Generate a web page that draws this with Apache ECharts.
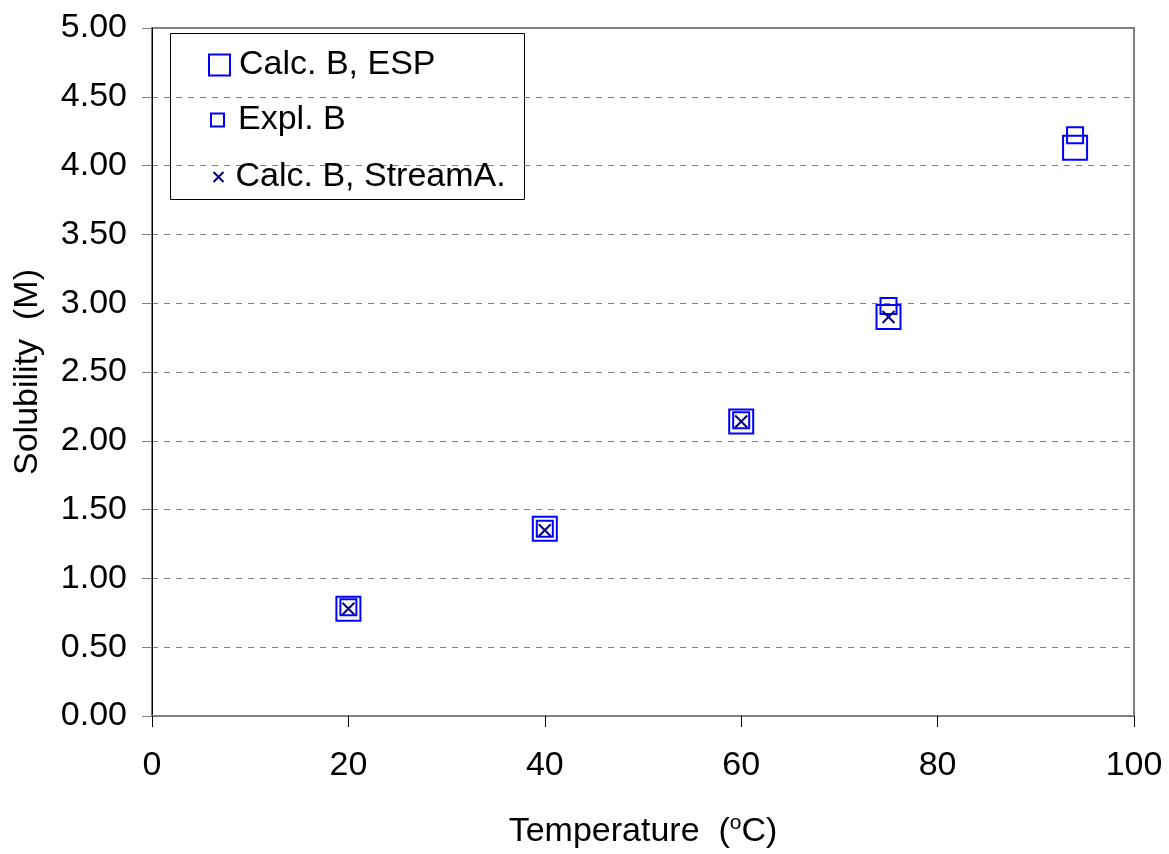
<!DOCTYPE html>
<html>
<head>
    <meta charset="UTF-8">
    <title>Solubility</title>
    <script type="text/javascript" src="https://cdn.jsdelivr.net/npm/echarts@6/dist/echarts.min.js"></script>
</head>
<body style="margin: 0;background: #ffffff;">
<div id="chart" style="width:1169px;height:854px;"></div>
<script>
    // temperatures (oC) and solubility (M)
    var temps = [20, 40, 60, 75, 94];
    var calcEsp = [0.78, 1.36, 2.14, 2.90, 4.13];
    var explB = [0.79, 1.36, 2.15, 2.98, 4.22];
    var calcStream = [0.78, 1.35, 2.14, 2.90];
    var xTicks = [0, 20, 40, 60, 80, 100];
    var yTicks = [0, 0.5, 1, 1.5, 2, 2.5, 3, 3.5, 4, 4.5, 5];

    function pairs(xs, ys) {
        var out = [];
        for (var i = 0; i < ys.length; i++) {
            out.push([xs[i], ys[i]]);
        }
        return out;
    }

    var crossPath = 'path://M0,0L10,10M10,0L0,10';
    var font = 'Liberation Sans, Arial, sans-serif';

    var chart = echarts.init(document.getElementById('chart'));
    var option = {
        animation: false,
        textStyle: {fontFamily: font},
        grid: {
            left: 152, right: 35, top: 28, bottom: 136,
            show: true, borderColor: '#808080', borderWidth: 2
        },
        xAxis: {
            type: 'value',
            min: xTicks[0], max: xTicks[xTicks.length - 1], interval: 20,
            name: 'Temperature  ({sup|o}C)',
            nameLocation: 'middle',
            nameGap: 97,
            nameTextStyle: {
                fontSize: 34, color: '#000', fontFamily: font,
                rich: {sup: {fontSize: 21, fontFamily: font, color: '#000', padding: [0, 0, 17, 0]}}
            },
            axisLine: {lineStyle: {color: '#808080', width: 2}},
            axisTick: {show: true, inside: false, length: 11, lineStyle: {color: '#000', width: 1}},
            axisLabel: {fontSize: 34, color: '#000', margin: 33},
            splitLine: {show: false}
        },
        yAxis: {
            type: 'value',
            min: yTicks[0], max: yTicks[yTicks.length - 1], interval: 0.5,
            name: 'Solubility  (M)',
            nameLocation: 'middle',
            nameGap: 107,
            nameTextStyle: {fontSize: 34, color: '#000'},
            axisLine: {show: true, lineStyle: {color: '#000', width: 1}},
            axisTick: {show: true, inside: false, length: 10, lineStyle: {color: '#808080', width: 1}},
            axisLabel: {
                fontSize: 34, color: '#000', margin: 25,
                formatter: function (v) { return v.toFixed(2); }
            },
            splitLine: {show: true, lineStyle: {color: '#808080', width: 1, type: [6, 6]}}
        },
        legend: [
            {
                left: 208, top: 48, itemWidth: 21, itemHeight: 21, padding: 0,
                textStyle: {fontSize: 34, color: '#000', padding: [0, 0, 0, 4]},
                data: [{name: 'Calc. B, ESP', icon: 'rect',
                    itemStyle: {color: 'transparent', borderColor: '#0000ff', borderWidth: 2}}]
            },
            {
                left: 210, top: 103, itemWidth: 13, itemHeight: 13, padding: 0,
                textStyle: {fontSize: 34, color: '#000', padding: [0, 0, 0, 9]},
                data: [{name: 'Expl. B', icon: 'rect',
                    itemStyle: {color: 'transparent', borderColor: '#0000ff', borderWidth: 2}}]
            },
            {
                left: 211, top: 160, itemWidth: 10, itemHeight: 10, padding: 0,
                textStyle: {fontSize: 34, color: '#000', padding: [0, 0, 0, 7]},
                data: [{name: 'Calc. B, StreamA.', icon: crossPath,
                    itemStyle: {color: 'none', borderColor: '#000080', borderWidth: 2}}]
            }
        ],
        graphic: [{
            type: 'rect', left: 170, top: 33, z: 0,
            shape: {width: 354, height: 166},
            style: {fill: '#fff', stroke: '#000', lineWidth: 1}
        }],
        series: [
            {
                name: 'Calc. B, ESP',
                type: 'scatter',
                symbol: 'rect',
                symbolSize: 24,
                itemStyle: {color: 'transparent', borderColor: '#0000ff', borderWidth: 2, opacity: 1},
                data: pairs(temps, calcEsp)
            },
            {
                name: 'Expl. B',
                type: 'scatter',
                symbol: 'rect',
                symbolSize: 16,
                itemStyle: {color: 'transparent', borderColor: '#0000ff', borderWidth: 2, opacity: 1},
                data: pairs(temps, explB)
            },
            {
                name: 'Calc. B, StreamA.',
                type: 'scatter',
                symbol: crossPath,
                symbolSize: 12,
                itemStyle: {color: 'none', borderColor: '#000080', borderWidth: 2, opacity: 1},
                data: pairs(temps, calcStream)
            }
        ]
    };
    chart.setOption(option);
</script>
</body>
</html>
